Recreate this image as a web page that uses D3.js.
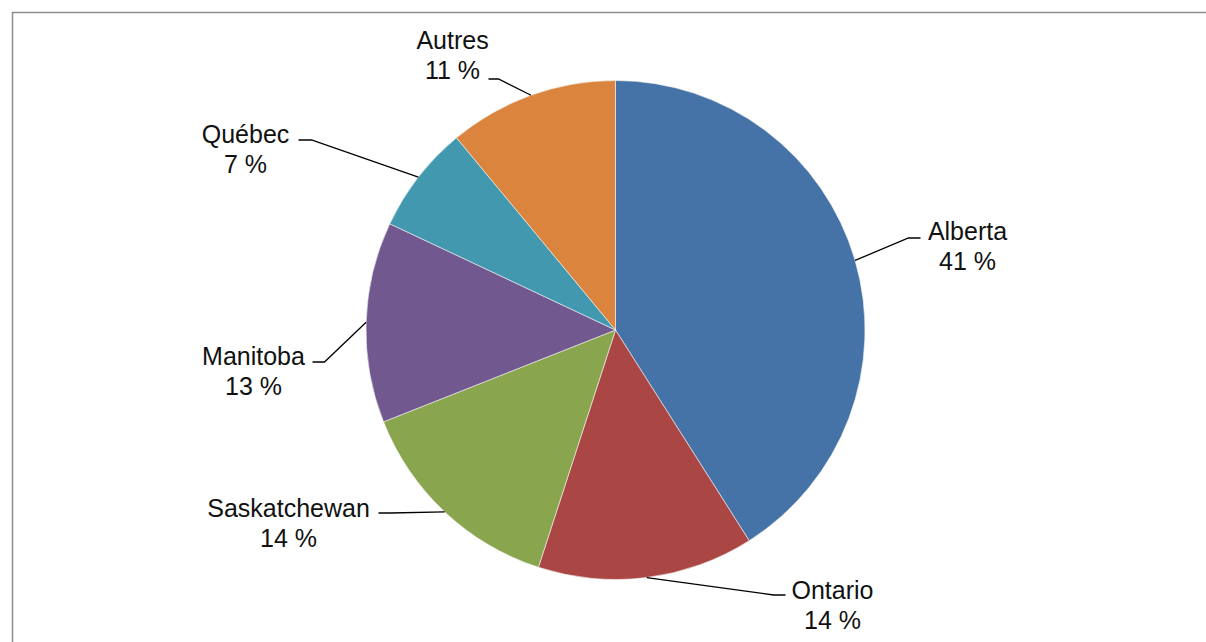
<!DOCTYPE html>
<html>
<head>
<meta charset="utf-8">
<script src="https://cdn.jsdelivr.net/npm/d3@7"></script>
<style>
  html, body { margin: 0; padding: 0; background: #fff; }
  svg { display: block; }
  text { font-family: "Liberation Sans", Arial, sans-serif; font-size: 25px; fill: #111; }
</style>
</head>
<body>
<script>
// data
var provinces = ["Alberta", "Ontario", "Saskatchewan", "Manitoba", "Québec", "Autres"];
var shares = [41, 14, 14, 13, 7, 11];
var sliceColors = ["#4572A7", "#AA4643", "#89A54E", "#71588F", "#4198AF", "#DB843D"];

// label placement, relative to the pie centre: text centre / first baseline, leader elbow and end
var labelLayout = {
    "Alberta":      {tx: 352,  ty: -90,  ex: 293,  ey: -92,  hx: 305},
    "Ontario":      {tx: 217,  ty: 269,  ex: 158,  ey: 265,  hx: 170},
    "Saskatchewan": {tx: -327, ty: 187,  ex: -225, ey: 183,  hx: -237},
    "Manitoba":     {tx: -362, ty: 35,   ex: -291, ey: 32,   hx: -303},
    "Québec":       {tx: -370, ty: -187, ex: -304, ey: -190, hx: -317},
    "Autres":       {tx: -163, ty: -281, ex: -117, ey: -251, hx: -127}
};

var width = 1206, height = 642;
var cx = 615.5, cy = 330, radius = 249.5;

var svg = d3.select("body")
    .append("svg")
    .attr("width", width)
    .attr("height", height);

// chart frame (only top and left edges show in the window)
svg.append("rect")
    .attr("x", 12.5)
    .attr("y", 12.5)
    .attr("width", width)
    .attr("height", height)
    .style("fill", "none")
    .style("stroke", "#8c8c8c")
    .style("stroke-width", 1.5);

var rows = provinces.map(function(p, i) {
    return {name: p, value: shares[i], color: sliceColors[i]};
});

var pie = d3.pie()
    .sort(null)
    .value(function(d) { return d.value; });

var arc = d3.arc()
    .innerRadius(0)
    .outerRadius(radius);

var g = svg.append("g")
    .attr("transform", "translate(" + cx + "," + cy + ")");

var arcs = pie(rows);

g.selectAll("path.slice")
    .data(arcs)
    .enter()
    .append("path")
    .attr("class", "slice")
    .attr("d", arc)
    .style("fill", function(d) { return d.data.color; })
    .style("stroke", "#f4f4f4")
    .style("stroke-width", 0.6);

// leader lines from the slice edge at its mid angle
g.selectAll("polyline.leader")
    .data(arcs)
    .enter()
    .append("polyline")
    .attr("class", "leader")
    .attr("points", function(d) {
        var a = (d.startAngle + d.endAngle) / 2;
        var px = radius * Math.sin(a), py = -radius * Math.cos(a);
        var L = labelLayout[d.data.name];
        return [[px, py], [L.ex, L.ey], [L.hx, L.ey]].join(" ");
    })
    .style("fill", "none")
    .style("stroke", "#000")
    .style("stroke-width", 1.3);

var labels = g.selectAll("text.label")
    .data(arcs)
    .enter()
    .append("text")
    .attr("class", "label")
    .attr("text-anchor", "middle");

labels.append("tspan")
    .attr("x", function(d) { return labelLayout[d.data.name].tx; })
    .attr("y", function(d) { return labelLayout[d.data.name].ty; })
    .text(function(d) { return d.data.name; });

labels.append("tspan")
    .attr("x", function(d) { return labelLayout[d.data.name].tx; })
    .attr("y", function(d) { return labelLayout[d.data.name].ty + 30; })
    .text(function(d) { return d.data.value + "\u00a0%"; });
</script>
</body>
</html>
